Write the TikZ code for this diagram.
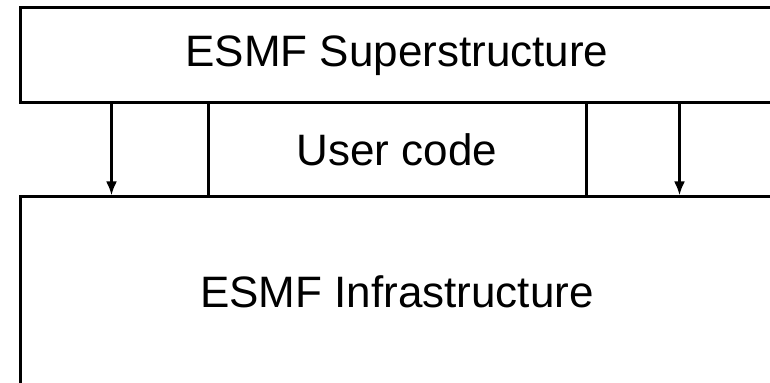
\documentclass[tikz,border=0pt]{standalone}
\usepackage{fontspec}
\setmainfont{Liberation Sans}
\usetikzlibrary{arrows.meta, positioning, calc}

\tikzset{
    layer/.style={draw, rectangle, inner sep=0pt, minimum width=377pt,
        font=\fontsize{22}{26}\selectfont},
    flow/.style={-{Latex[length=7pt, width=5.5pt]}}
}

\begin{document}
\begin{tikzpicture}[x=0.5pt, y=-0.5pt, line width=1.5pt]
                        \useasboundingbox (0, 0) rectangle (770, 383);
                        \node[layer, minimum height=47.25pt] (super) at (397, 55.25) {ESMF Superstructure};
                        \node[layer, minimum height=95pt] (infra) at (397, 292) {ESMF Infrastructure};
                        \node[layer, draw=none, outer sep=0pt, minimum width=189pt, minimum height=47.25pt]
                            (user) at ($(super.south)!0.5!(infra.north)$) {User code};
                        \coordinate (a1) at ($(super.south west)+(93, 0)$);
                        \coordinate (a2) at ($(super.south west)+(661, 0)$);

                        \draw
                        (user.west |- super.south) -- (user.west |- infra.north)
                        (user.east |- super.south) -- (user.east |- infra.north);
                        \draw[flow] (a1) -- (a1 |- infra.north);
                        \draw[flow] (a2) -- (a2 |- infra.north);
                    \end{tikzpicture}
\end{document}
